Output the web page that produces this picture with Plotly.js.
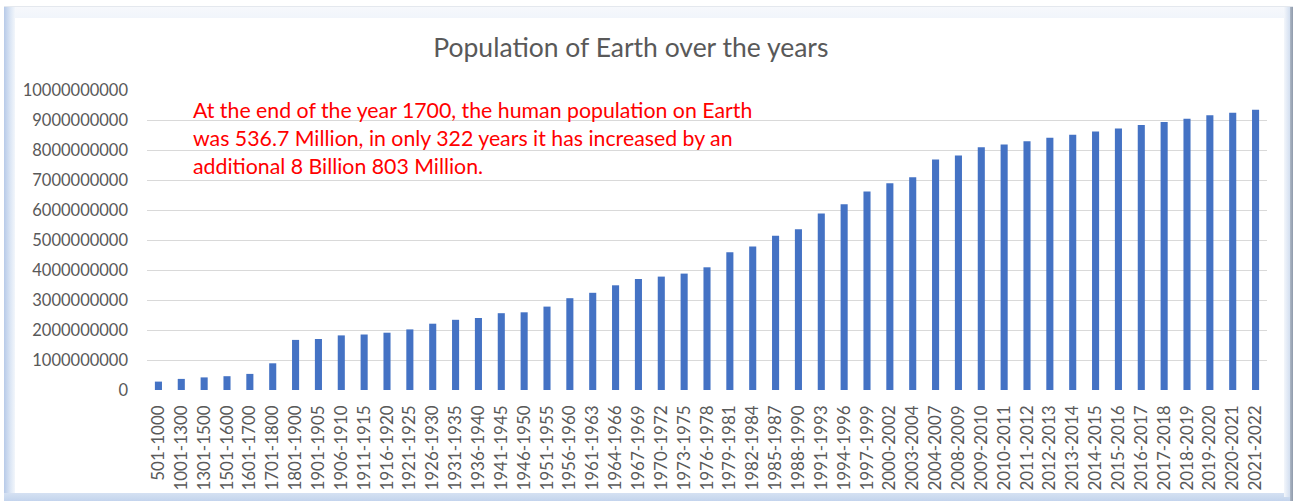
<!DOCTYPE html>
<html>
<head>
<meta charset="utf-8">
<script src="https://cdn.plot.ly/plotly-3.0.1.min.js"></script>
<style>
  html, body { margin: 0; padding: 0; background: #ffffff; }
  #wrap { position: relative; width: 1298px; height: 501px; overflow: hidden; background: #ffffff; }
  #chart { position: absolute; left: 0; top: 0; width: 1298px; height: 501px; }
  .fr { position: absolute; pointer-events: none; }
</style>
</head>
<body>
<div id="wrap">
  <div id="chart"></div>
  <div class="fr" style="left:4px; top:6px; width:1289px; height:1px; background:#e4e8ee;"></div>
  <div class="fr" style="left:5px; top:7px; width:1282px; height:11px; background:linear-gradient(#f6f8fc,#f1f5fb);"></div>
  <div class="fr" style="left:4px; top:7px; width:11px; height:490px; background:linear-gradient(to right,#b7cae8,#dde7f5 60%,#f2f6fb);"></div>
  <div class="fr" style="left:4px; top:493px; width:1289px; height:8px; background:linear-gradient(#d5e1f2,#c3d4ed);"></div>
  <div class="fr" style="left:1284px; top:7px; width:6px; height:490px; background:linear-gradient(to right,#f3f6fb,#d3dff0);"></div>
  <div class="fr" style="left:1290px; top:7px; width:3px; height:494px; background:linear-gradient(to right,#aeb8c6,#8f9aab);"></div>
</div>
<script>
const periods = [
  "501-1000","1001-1300","1301-1500","1501-1600","1601-1700","1701-1800","1801-1900",
  "1901-1905","1906-1910","1911-1915","1916-1920","1921-1925","1926-1930","1931-1935",
  "1936-1940","1941-1945","1946-1950","1951-1955","1956-1960","1961-1963","1964-1966",
  "1967-1969","1970-1972","1973-1975","1976-1978","1979-1981","1982-1984","1985-1987",
  "1988-1990","1991-1993","1994-1996","1997-1999","2000-2002","2003-2004","2004-2007",
  "2008-2009","2009-2010","2010-2011","2011-2012","2012-2013","2013-2014","2014-2015",
  "2015-2016","2016-2017","2017-2018","2018-2019","2019-2020","2020-2021","2021-2022"
];

const population = [
  280000000, 370000000, 420000000, 460000000, 536700000, 890000000, 1670000000,
  1700000000, 1820000000, 1850000000, 1910000000, 2020000000, 2210000000, 2340000000,
  2400000000, 2560000000, 2590000000, 2780000000, 3060000000, 3240000000, 3490000000,
  3700000000, 3780000000, 3880000000, 4090000000, 4590000000, 4780000000, 5140000000,
  5360000000, 5880000000, 6190000000, 6620000000, 6890000000, 7090000000, 7680000000,
  7820000000, 8090000000, 8180000000, 8290000000, 8410000000, 8510000000, 8620000000,
  8720000000, 8830000000, 8930000000, 9040000000, 9160000000, 9240000000, 9339700000
];

const yTicks = [0,1000000000,2000000000,3000000000,4000000000,5000000000,6000000000,7000000000,8000000000,9000000000,10000000000];
const yTickLabels = ["0","1000000000","2000000000","3000000000","4000000000","5000000000","6000000000","7000000000","8000000000","9000000000","10000000000"];

const chartTitle = "Population of Earth over the years";
const noteLines = [
  "At the end of the year 1700, the human population on Earth",
  "was 536.7 Million, in only 322 years it has increased by an",
  "additional 8 Billion 803 Million."
];

const FONT = "Lato, 'Open Sans', sans-serif";

const trace = {
  type: "bar",
  x: periods,
  y: population,
  marker: { color: "#4472C4" },
  hoverinfo: "x+y"
};

const noteY = [0.933, 0.840, 0.748];
const annotations = noteLines.map((t, i) => ({
  text: t,
  xref: "paper", yref: "paper",
  x: 0.0395, y: noteY[i],
  xanchor: "left", yanchor: "middle",
  showarrow: false,
  align: "left",
  font: { family: FONT, size: 21.3, color: "#FF0000" }
}));

const layout = {
  width: 1298,
  height: 501,
  margin: { l: 147, r: 31, t: 90, b: 111, pad: 0 },
  paper_bgcolor: "rgba(0,0,0,0)",
  plot_bgcolor: "rgba(0,0,0,0)",
  bargap: 0.69,
  showlegend: false,
  title: {
    text: chartTitle,
    font: { family: FONT, size: 26.5, color: "#595959" },
    x: 0.432, xanchor: "center",
    y: 0.904, yanchor: "middle",
    xref: "paper", yref: "container"
  },
  xaxis: {
    type: "category",
    tickangle: -90,
    tickfont: { family: FONT, size: 17, color: "#595959" },
    showgrid: false,
    showline: false,
    ticks: "",
    ticklabelstandoff: 11,
    fixedrange: true
  },
  yaxis: {
    range: [0, 10000000000],
    tickmode: "array",
    tickvals: yTicks,
    ticktext: yTickLabels,
    tickfont: { family: FONT, size: 16.5, color: "#595959" },
    showgrid: true,
    gridcolor: "#D9D9D9",
    gridwidth: 1,
    zeroline: false,
    showline: false,
    ticks: "",
    ticklabelstandoff: 18,
    fixedrange: true
  },
  annotations: annotations,
  font: { family: FONT }
};

Plotly.newPlot("chart", [trace], layout, { displayModeBar: false, staticPlot: true });
</script>
</body>
</html>
